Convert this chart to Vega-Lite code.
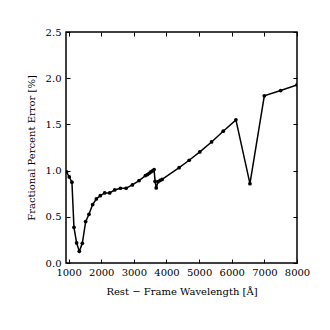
{
  "$schema": "https://vega.github.io/schema/vega-lite/v6.json",
  "autosize": {"type": "none"},
  "padding": {"left": 66, "top": 32, "right": 33, "bottom": 67},
  "width": 231,
  "height": 231,
  "background": "white",
  "config": {
    "view": {"stroke": "black", "strokeWidth": 1.5},
    "font": "DejaVu Serif",
    "axis": {"grid": false, "domain": false, "tickColor": "black", "labelColor": "black", "titleColor": "black", "labelFont": "DejaVu Serif", "titleFont": "DejaVu Serif", "labelFontSize": 10, "titleFontSize": 10, "titleFontWeight": "normal", "tickSize": -4, "tickWidth": 1}
  },
  "data": {"values": [
    {"w": 935, "e": 0.986},
    {"w": 1020, "e": 0.931},
    {"w": 1102, "e": 0.874},
    {"w": 1164, "e": 0.386},
    {"w": 1246, "e": 0.217},
    {"w": 1328, "e": 0.126},
    {"w": 1420, "e": 0.213},
    {"w": 1522, "e": 0.448},
    {"w": 1624, "e": 0.527},
    {"w": 1737, "e": 0.632},
    {"w": 1850, "e": 0.693},
    {"w": 1972, "e": 0.729},
    {"w": 2105, "e": 0.758},
    {"w": 2259, "e": 0.758},
    {"w": 2412, "e": 0.791},
    {"w": 2587, "e": 0.809},
    {"w": 2760, "e": 0.809},
    {"w": 2955, "e": 0.845},
    {"w": 3160, "e": 0.892},
    {"w": 3354, "e": 0.946},
    {"w": 3416, "e": 0.957},
    {"w": 3468, "e": 0.971},
    {"w": 3520, "e": 0.986},
    {"w": 3570, "e": 0.996},
    {"w": 3620, "e": 1.011},
    {"w": 3650, "e": 0.884},
    {"w": 3685, "e": 0.812},
    {"w": 3742, "e": 0.88},
    {"w": 3803, "e": 0.893},
    {"w": 3865, "e": 0.905},
    {"w": 4388, "e": 1.032},
    {"w": 4695, "e": 1.112},
    {"w": 5022, "e": 1.202},
    {"w": 5381, "e": 1.31},
    {"w": 5739, "e": 1.426},
    {"w": 6128, "e": 1.549},
    {"w": 6558, "e": 0.859},
    {"w": 6998, "e": 1.809},
    {"w": 7499, "e": 1.866},
    {"w": 8000, "e": 1.928}
  ]},
  "layer": [
    {
      "mark": {"type": "line", "color": "black", "strokeWidth": 1.5, "clip": true, "point": {"filled": true, "color": "black", "size": 14}},
      "encoding": {
        "x": {"field": "w", "type": "quantitative", "sort": null, "scale": {"domain": [920, 8000], "nice": false, "zero": false},
          "axis": {"values": [1000, 2000, 3000, 4000, 5000, 6000, 7000, 8000], "format": "d", "title": "Rest − Frame Wavelength [Å]", "labelPadding": 8, "titlePadding": 9, "labelFlush": false}},
        "y": {"field": "e", "type": "quantitative", "scale": {"domain": [0, 2.5], "nice": false},
          "axis": {"values": [0, 0.5, 1, 1.5, 2, 2.5], "format": ".1f", "title": "Fractional Percent Error [%]", "labelPadding": 9, "titlePadding": 9, "labelFlush": false}},
        "order": {"field": "w"}
      }
    },
    {
      "mark": {"type": "point", "opacity": 0},
      "encoding": {
        "x": {"field": "w", "type": "quantitative", "axis": {"orient": "top", "values": [1000, 2000, 3000, 4000, 5000, 6000, 7000, 8000], "labels": false, "title": null}},
        "y": {"field": "e", "type": "quantitative", "axis": {"orient": "right", "values": [0, 0.5, 1, 1.5, 2, 2.5], "labels": false, "title": null}}
      }
    }
  ],
  "resolve": {"axis": {"x": "independent", "y": "independent"}}
}
